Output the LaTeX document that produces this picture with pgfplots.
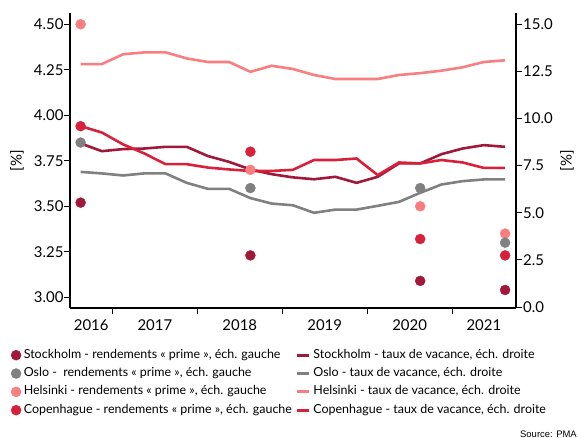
\documentclass[border=0pt]{standalone}
\usepackage{fontspec}
\setmainfont{Lato}
\newfontfamily\arialfont{Liberation Sans}
\usepackage{pgfplots}
\pgfplotsset{compat=1.18}
\definecolor{stock}{HTML}{A0183A}
\definecolor{oslo}{HTML}{808080}
\definecolor{hel}{HTML}{F97E80}
\definecolor{cop}{HTML}{D9203A}
\pgfplotsset{
  base/.style={
    at={(70bp,130bp)}, anchor=south west,
    scale only axis, width=445.7bp, height=295bp,
    xmin=2016.5, xmax=2021.75,
    axis line style={line width=1.8bp, black},
    tick style={line width=0.9bp, black},
    tick align=outside, major tick length=6bp, minor tick length=6bp,
    tick label style={font=\fontsize{15}{18}\selectfont},
    /pgf/number format/assume math mode=true,
    label style={font=\fontsize{15}{18}\selectfont},
  },
  vline/.style={line width=2.6bp, no marks, color=#1},
  vdot/.style={only marks, mark=*, mark size=5bp, color=#1},
  dotleg/.style={legend image code/.code={\fill[#1] (5bp,0bp) circle (5bp);}},
  lineleg/.style={legend image code/.code={\draw[#1, line width=3bp] (0bp,0bp) -- (12bp,0bp);}},
}
\begin{document}
\begin{tikzpicture}
\useasboundingbox (0bp,0bp) rectangle (579bp,438bp);
% right axis: vacancy rates
\begin{axis}[base,
  axis x line=none, axis y line*=right,
  ymin=-0.05, ymax=15.6,
  ytick={0,2.5,5,7.5,10,12.5,15},
  yticklabel style={xshift=-2bp, /pgf/number format/.cd, fixed, fixed zerofill, precision=1},
  ylabel={[\%]},
  ylabel style={at={(axis description cs:1.115,0.5)}, anchor=center, rotate=0},
]
\addplot[vline=stock] coordinates {
(2016.625,8.68) (2016.875,8.27) (2017.125,8.38) (2017.375,8.41) (2017.625,8.50)
(2017.875,8.50) (2018.125,8.01) (2018.375,7.70) (2018.625,7.30) (2018.875,7.05)
(2019.125,6.88) (2019.375,6.78) (2019.625,6.91) (2019.875,6.59) (2020.125,6.91)
(2020.375,7.62) (2020.625,7.62) (2020.875,8.11) (2021.125,8.41) (2021.375,8.59)
(2021.625,8.50)};
\addplot[vline=oslo] coordinates {
(2016.625,7.17) (2016.875,7.09) (2017.125,6.98) (2017.375,7.09) (2017.625,7.09)
(2017.875,6.59) (2018.125,6.27) (2018.375,6.27) (2018.625,5.78) (2018.875,5.49)
(2019.125,5.40) (2019.375,5.00) (2019.625,5.17) (2019.875,5.17) (2020.125,5.37)
(2020.375,5.58) (2020.625,6.06) (2020.875,6.50) (2021.125,6.68) (2021.375,6.77)
(2021.625,6.77)};
\addplot[vline=hel] coordinates {
(2016.625,12.89) (2016.875,12.89) (2017.125,13.41) (2017.375,13.51) (2017.625,13.51)
(2017.875,13.19) (2018.125,13.00) (2018.375,13.00) (2018.625,12.48) (2018.875,12.80)
(2019.125,12.63) (2019.375,12.31) (2019.625,12.10) (2019.875,12.10) (2020.125,12.10)
(2020.375,12.31) (2020.625,12.41) (2020.875,12.54) (2021.125,12.72) (2021.375,13.00)
(2021.625,13.09)};
\addplot[vline=cop] coordinates {
(2016.625,9.60) (2016.875,9.26) (2017.125,8.63) (2017.375,8.15) (2017.625,7.58)
(2017.875,7.58) (2018.125,7.40) (2018.375,7.30) (2018.625,7.22) (2018.875,7.22)
(2019.125,7.28) (2019.375,7.80) (2019.625,7.80) (2019.875,7.88) (2020.125,7.00)
(2020.375,7.67) (2020.625,7.62) (2020.875,7.80) (2021.125,7.67) (2021.375,7.38)
(2021.625,7.38)};
\end{axis}
% left axis: prime yields
\begin{axis}[base,
  axis x line*=bottom, axis y line*=left,
  ymin=2.941, ymax=4.562,
  ytick={3,3.25,3.5,3.75,4,4.25,4.5},
  yticklabel style={xshift=3bp, /pgf/number format/.cd, fixed, fixed zerofill, precision=2},
  xtick={2016.75,2017.5,2018.5,2019.5,2020.5,2021.375},
  xticklabels={2016,2017,2018,2019,2020,2021},
  xticklabel style={yshift=-2.5bp},
  major x tick style={draw=none},
  minor xtick={2017,2018,2019,2020,2021},
  ylabel={[\%]},
  ylabel style={at={(axis description cs:-0.119,0.5)}, anchor=center},
  legend columns=2,
  legend cell align=left,
  legend style={draw=none, fill=none, at={(axis description cs:-0.133,-0.139)}, anchor=north west,
    inner xsep=0pt, inner ysep=0pt, font=\fontsize{12.5}{14}\selectfont,
    nodes={inner sep=0pt, text height=9bp, text depth=3bp}, row sep=6.33bp,
    /tikz/every odd column/.append style={column sep=2.5bp},
    /tikz/every even column/.append style={column sep=4bp}},
]
\addplot[vdot=hel, forget plot] coordinates {(2016.625,4.50) (2018.625,3.70) (2020.625,3.50) (2021.625,3.35)};
\addplot[vdot=stock, forget plot] coordinates {(2016.625,3.52) (2018.625,3.23) (2020.625,3.09) (2021.625,3.04)};
\addplot[vdot=oslo, forget plot] coordinates {(2016.625,3.85) (2018.625,3.60) (2020.625,3.60) (2021.625,3.30)};
\addplot[vdot=cop, forget plot] coordinates {(2016.625,3.94) (2018.625,3.80) (2020.625,3.32) (2021.625,3.23)};
\addlegendimage{dotleg=stock}
\addlegendentry{Stockholm - rendements « prime », éch. gauche}
\addlegendimage{lineleg=stock}
\addlegendentry{Stockholm - taux de vacance, éch. droite}
\addlegendimage{dotleg=oslo}
\addlegendentry{Oslo - \ rendements « prime », éch. gauche}
\addlegendimage{lineleg=oslo}
\addlegendentry{Oslo - taux de vacance, éch. droite}
\addlegendimage{dotleg=hel}
\addlegendentry{Helsinki - rendements « prime », éch. gauche}
\addlegendimage{lineleg=hel}
\addlegendentry{Helsinki - taux de vacance, éch. droite}
\addlegendimage{dotleg=cop}
\addlegendentry{Copenhague - rendements « prime », éch. gauche}
\addlegendimage{lineleg=cop}
\addlegendentry{Copenhague - taux de vacance, éch. droite}
\end{axis}
\node[anchor=base east, inner sep=0pt, font=\arialfont\fontsize{9.5}{11}\selectfont] at (577bp,1bp) {Source: PMA};
\end{tikzpicture}
\end{document}
